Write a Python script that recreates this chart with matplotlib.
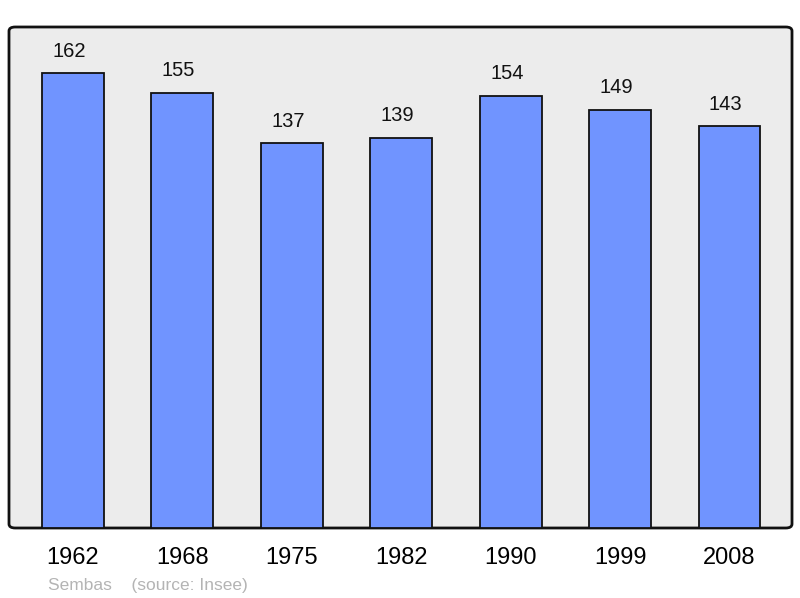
import matplotlib
matplotlib.use("Agg")
import matplotlib.pyplot as plt
from matplotlib.patches import FancyBboxPatch

years = ["1962", "1968", "1975", "1982", "1990", "1999", "2008"]
population = [162, 155, 137, 139, 154, 149, 143]

plt.rcParams["font.family"] = ["Liberation Sans", "DejaVu Sans"]

fig = plt.figure(figsize=(8, 5.98), dpi=100)
ax = fig.add_axes([0.01125, 0.11706, 0.97875, 0.83779])
ax.set_facecolor("none")

# rounded frame with grey fill
frame = FancyBboxPatch((0, 0), 1, 1, boxstyle="round,pad=0,rounding_size=0.008",
                       transform=ax.transAxes, facecolor="#ececec",
                       edgecolor="#111111", linewidth=2, clip_on=False, zorder=0)
ax.add_patch(frame)

pos = list(range(len(years)))
bars = ax.bar(pos, population, width=0.566, color="#7094ff",
              edgecolor="#111111", linewidth=1.3, zorder=2)

for p, v in zip(pos, population):
    ax.text(p - 0.035, v + 7.8, str(v), ha="center", va="center",
            fontsize=14.5, color="#111111")

ax.set_xlim(-0.584, 6.571)
ax.set_ylim(0, 178.4)
ax.set_xticks(pos)
ax.set_xticklabels(years, fontsize=17)
ax.tick_params(axis="x", length=0, pad=14)
ax.set_yticks([])
for s in ax.spines.values():
    s.set_visible(False)

fig.text(0.06, 0.0217, "Sembas    (source: Insee)", fontsize=12.5, color="#b4b4b4",
         ha="left", va="center")

fig.savefig("out.png", dpi=100)
